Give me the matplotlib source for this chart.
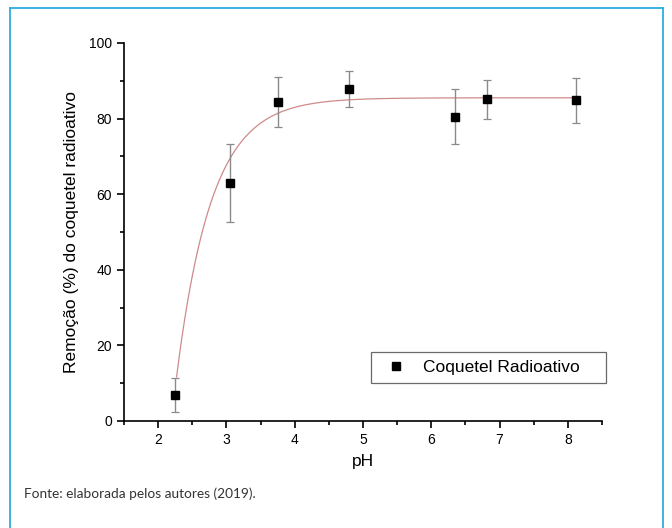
import numpy as np
import matplotlib
matplotlib.use("Agg")
from matplotlib import pyplot as plt
from matplotlib.lines import Line2D

ph = [2.25, 3.05, 3.76, 4.79, 6.35, 6.82, 8.12]
remocao = [6.9, 63.0, 84.4, 87.8, 80.5, 85.1, 84.8]
erro = [4.6, 10.4, 6.6, 4.7, 7.3, 5.1, 5.9]

# exponential fit: y = A * (1 - exp(-k * (x - x0)))
fit_A = 85.5
fit_k = 1.95
fit_x0 = 2.195
fit_range = [2.27, 8.12]

plt.rcParams['font.family'] = ['Liberation Sans', 'DejaVu Sans']

fig = plt.figure(figsize=(6.72, 5.28), dpi=100)
ax = fig.add_axes([0.1845, 0.2027, 0.7113, 0.7159])

xs = np.linspace(fit_range[0], fit_range[1], 300)
ax.plot(xs, fit_A * (1 - np.exp(-fit_k * (xs - fit_x0))), color='#d08a8a', lw=0.9, zorder=2)
ax.errorbar(ph, remocao, yerr=erro, fmt='none', ecolor='#8a8a8a', elinewidth=1.0,
            capsize=3, capthick=0.9, zorder=3)
ax.plot(ph, remocao, 's', color='black', ms=6, label='Coquetel Radioativo', zorder=4)

ax.set_xlim(1.5, 8.5)
ax.set_ylim(0, 100)
ax.set_xticks(range(2, 9))
ax.set_xticks(np.arange(1.5, 8.6, 0.5), minor=True)
ax.set_yticks(range(0, 101, 20))
ax.set_yticks(range(0, 101, 10), minor=True)
ax.tick_params(which='both', direction='out', width=1.2, labelsize=10)
ax.tick_params(which='major', length=5)
ax.tick_params(which='minor', length=3)
for side in ['top', 'right']:
    ax.spines[side].set_visible(False)
for side in ['left', 'bottom']:
    ax.spines[side].set_linewidth(1.2)

ax.set_xlabel('pH', fontsize=12.5, labelpad=5)
ax.set_ylabel('Remoção (%) do coquetel radioativo', fontsize=12.5, labelpad=7)

leg = ax.legend(loc='lower left', bbox_to_anchor=(0.517, 0.1005, 0.491, 0.08), mode='expand',
                fontsize=12.5, frameon=True, fancybox=False, edgecolor='#444444',
                handlelength=2.0, handletextpad=0.55, borderpad=0.45, borderaxespad=0)
leg.get_frame().set_linewidth(0.9)

fig.text(0.036, 0.056, 'Fonte: elaborada pelos autores (2019).', fontsize=9.8,
         family=['Lato', 'DejaVu Sans'], color='#333333')

# light blue frame around the figure, open at the bottom
c = '#2aaee3'
fig.add_artist(Line2D([0.0148, 0.0148], [0.985, -0.01], color=c, lw=1.3, transform=fig.transFigure))
fig.add_artist(Line2D([0.9866, 0.9866], [0.985, -0.01], color=c, lw=1.3, transform=fig.transFigure))
fig.add_artist(Line2D([0.0148, 0.9866], [0.985, 0.985], color=c, lw=1.3, transform=fig.transFigure))

fig.savefig('out.png', dpi=100)
